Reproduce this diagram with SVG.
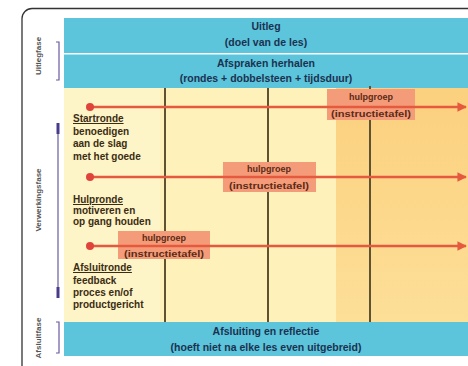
<svg xmlns="http://www.w3.org/2000/svg" width="468" height="366" viewBox="0 0 468 366">
<style>
.band{fill:#5cc4db}
.bt{font-family:"Liberation Sans",Arial,sans-serif;font-weight:bold;font-size:10.5px;fill:#1b3250;text-anchor:middle}
.side{font-family:"Liberation Sans",Arial,sans-serif;font-weight:bold;font-size:8px;fill:#555;text-anchor:middle}
.br{stroke:#6a5aa0;stroke-width:1.2;fill:none}
.brt{stroke:#4a3a8a;stroke-width:3}
.vl{stroke:#5e5232;stroke-width:2}
.arr{stroke:#e55a3e;stroke-width:2.5;fill:none}
.dot{fill:#e0433a}
.box{fill:#f49c79}
.ht{font-family:"Liberation Sans",Arial,sans-serif;font-weight:bold;font-size:9px;fill:#5c2a16;text-anchor:middle}
.lt{font-family:"Liberation Sans",Arial,sans-serif;font-weight:bold;font-size:10px;fill:#3b2c12}
.ul{text-decoration:underline}
</style>
<defs>
<marker id="ah" viewBox="0 0 10 10" refX="9" refY="5" markerWidth="3.8" markerHeight="3.8" orient="auto" markerUnits="strokeWidth">
<path d="M0,0 L10,5 L0,10 z" fill="#e55a3e"/>
</marker>
<linearGradient id="og" x1="0" y1="0" x2="0" y2="1">
<stop offset="0" stop-color="#fbd07e"/>
<stop offset="1" stop-color="#fddf98"/>
</linearGradient>
</defs>
<rect x="0" y="0" width="468" height="366" fill="#ffffff"/>
<rect x="22" y="8.5" width="470" height="380" rx="10" fill="#ffffff" stroke="#333" stroke-width="1.3"/>

<g id="background">
<rect x="64" y="88" width="404" height="234" fill="#fdf4c8"/>
<rect x="160" y="88" width="178" height="234" fill="#fef1ba"/>
<rect x="336" y="88" width="132" height="234" fill="url(#og)"/>
</g>

<g id="uitleg">
<rect class="band" x="64" y="18" width="404" height="35"/>
<text class="bt" x="266" y="30">Uitleg</text>
<text class="bt" x="266" y="46">(doel van de les)</text>
</g>
<g id="afspraken">
<rect class="band" x="64" y="54.5" width="404" height="33.5"/>
<text class="bt" x="266" y="67">Afspraken herhalen</text>
<text class="bt" x="266" y="82">(rondes + dobbelsteen + tijdsduur)</text>
</g>
<g id="afsluiting">
<rect class="band" x="64" y="322" width="404" height="34"/>
<text class="bt" x="266" y="335">Afsluiting en reflectie</text>
<text class="bt" x="266" y="351">(hoeft niet na elke les even uitgebreid)</text>
</g>

<g id="fases">
<text class="side" transform="translate(41,56) rotate(-90)">Uitlegfase</text>
<path class="br" d="M56,42 H59 V80 H56"/>
<text class="side" transform="translate(41,200) rotate(-90)">Verwerkingsfase</text>
<path class="br" d="M58,123 V298"/>
<line class="brt" x1="58" y1="123" x2="58" y2="134"/>
<line class="brt" x1="58" y1="287" x2="58" y2="298"/>
<text class="side" transform="translate(41,338) rotate(-90)">Afsluitfase</text>
<path class="br" d="M56,322 H59 V353 H56"/>
</g>

<g id="timelines">
<line class="vl" x1="165" y1="88" x2="165" y2="322"/>
<line class="vl" x1="268" y1="88" x2="268" y2="322"/>
<line class="vl" x1="370" y1="86" x2="370" y2="322"/>
</g>

<g id="hulpgroep1">
<rect class="box" x="327" y="89" width="88" height="31"/>
<text class="ht" x="371" y="100">hulpgroep</text>
<text class="ht" x="371" y="117" textLength="80" lengthAdjust="spacingAndGlyphs">(instructietafel)</text>
</g>
<g id="hulpgroep2">
<rect class="box" x="223" y="162" width="93" height="30"/>
<text class="ht" x="269" y="172">hulpgroep</text>
<text class="ht" x="269" y="189" textLength="80" lengthAdjust="spacingAndGlyphs">(instructietafel)</text>
</g>
<g id="hulpgroep3">
<rect class="box" x="118" y="231" width="92" height="28"/>
<text class="ht" x="164" y="241">hulpgroep</text>
<text class="ht" x="164" y="257" textLength="80" lengthAdjust="spacingAndGlyphs">(instructietafel)</text>
</g>

<g id="connectors">
<line class="arr" x1="90" y1="107" x2="466" y2="107" marker-end="url(#ah)"/>
<line class="arr" x1="90" y1="177" x2="466" y2="177" marker-end="url(#ah)"/>
<line class="arr" x1="90" y1="246" x2="466" y2="246" marker-end="url(#ah)"/>
<circle class="dot" cx="90" cy="107" r="4"/>
<circle class="dot" cx="90" cy="177" r="4"/>
<circle class="dot" cx="90" cy="246" r="4"/>
</g>

<g id="startronde">
<text class="lt ul" x="73" y="122">Startronde</text>
<text class="lt" x="73" y="135">benoedigen</text>
<text class="lt" x="73" y="147">aan de slag</text>
<text class="lt" x="73" y="160">met het goede</text>
</g>
<g id="hulpronde">
<text class="lt ul" x="73" y="203">Hulpronde</text>
<text class="lt" x="73" y="214">motiveren en</text>
<text class="lt" x="73" y="225">op gang houden</text>
</g>
<g id="afsluitronde">
<text class="lt ul" x="73" y="271">Afsluitronde</text>
<text class="lt" x="73" y="284">feedback</text>
<text class="lt" x="73" y="296">proces en/of</text>
<text class="lt" x="73" y="308">productgericht</text>
</g>
</svg>
